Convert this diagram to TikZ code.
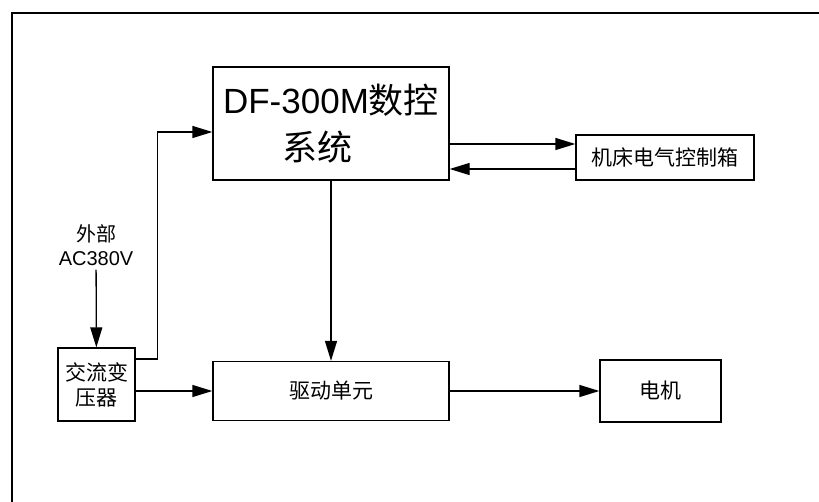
\documentclass[tikz,border=0pt]{standalone}
\usepackage{fontspec}
\setmainfont{Liberation Sans}
\newfontfamily\cjk{Noto Sans CJK SC}
\usetikzlibrary{arrows.meta}

\begin{document}
\begin{tikzpicture}[x=1pt, y=-1pt, line width=1.3pt,
    >={Triangle[length=20pt, width=12pt]},
    box/.style={draw, inner sep=0pt, font=\fontsize{21}{25}\selectfont}]
  \useasboundingbox (0,0) rectangle (819,502);
  \draw[line width=1.6pt] (12,502) -- (12,13) -- (819,13);
  % blocks
  \node[box, minimum width=236pt, minimum height=113pt, align=center,
        font=\fontsize{35}{47}\selectfont] (ctrl) at (331,123.5)
    {DF-300M{\cjk 数控}\\{\cjk 系统}\hspace*{28pt}};
  \node[box, minimum width=178pt, minimum height=45pt] (cab) at (665,157.5)
    {\cjk 机床电气控制箱};
  \node[box, minimum width=236pt, minimum height=59pt] (drv) at (331,391)
    {\cjk 驱动单元};
  \node[box, minimum width=121pt, minimum height=62pt] (mot) at (660.5,391)
    {\cjk 电机};
  \node[box, minimum width=77pt, minimum height=73pt, align=center] (trf) at (96.5,384.5)
    {\cjk 交流变\\\cjk 压器};
  \node[align=center, font=\fontsize{20}{24}\selectfont] (ext) at (96,245)
    {{\cjk 外部}\\AC380V};
  % connections
  \draw[->] (ext) -- (trf);
  \draw[->] ([yshift=25.5pt]trf.east) -- ++(22,0) |- ([yshift=-8.5pt]ctrl.west);
  \draw[->] ([yshift=-6.5pt]trf.east) -- (drv.west);
  \draw[->] (ctrl.south) -- (drv.north);
  \draw[->] (drv.east) -- (mot.west);
  \draw[->] ([yshift=-20.5pt]ctrl.east) -- ([yshift=13.5pt]cab.west);
  \draw[->] ([yshift=-11.5pt]cab.west) -- ([yshift=-45.5pt]ctrl.east);
\end{tikzpicture}
\end{document}
